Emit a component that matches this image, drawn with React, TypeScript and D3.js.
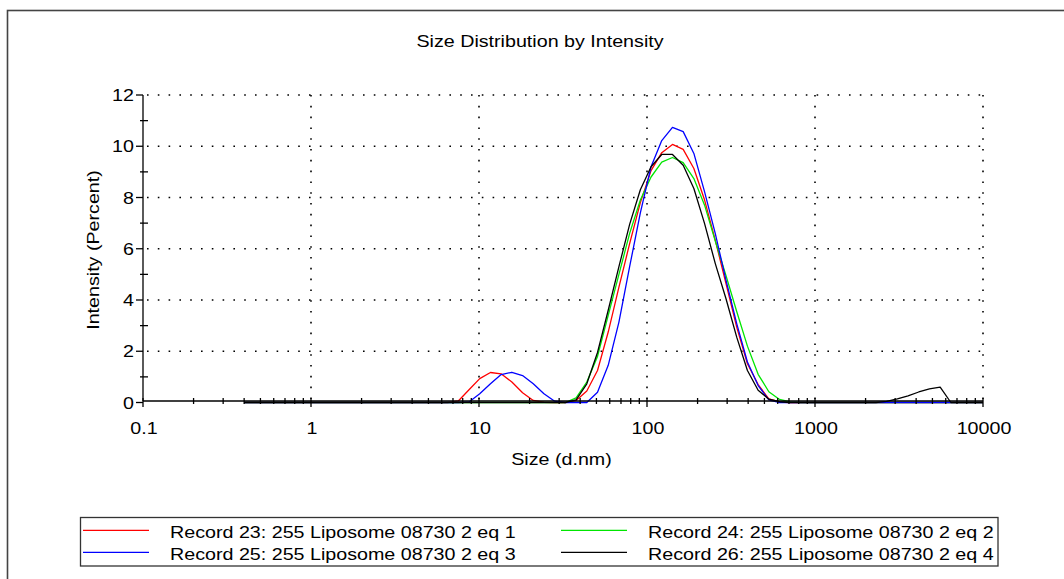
import * as d3 from 'd3'

const WIDTH = 1064
const HEIGHT = 579
const FONT = '"Liberation Sans", Arial, Helvetica, sans-serif'
const FONT_SIZE = 16.4
const STRETCH = 1.2

// size bins (d.nm)
const SIZES = [
  0.4, 0.4632, 0.5365, 0.6213, 0.7195, 0.8332, 0.9649, 1.117, 1.294, 1.499,
  1.736, 2.01, 2.328, 2.696, 3.122, 3.615, 4.187, 4.849, 5.615, 6.503,
  7.531, 8.721, 10.1, 11.7, 13.54, 15.69, 18.17, 21.04, 24.36, 28.21,
  32.67, 37.84, 43.82, 50.75, 58.77, 68.06, 78.82, 91.28, 105.7, 122.4,
  141.8, 164.2, 190.1, 220.2, 255.0, 295.3, 342.0, 396.1, 458.7, 531.2,
  615.1, 712.4, 825.0, 955.4, 1106, 1281, 1484, 1718, 1990, 2305,
  2669, 3091, 3580, 4145, 4801, 5560, 6439, 7456, 8635, 10000,
]

const RECORD_23 = [
  0, 0, 0, 0, 0, 0, 0, 0, 0, 0,
  0, 0, 0, 0, 0, 0, 0, 0, 0, 0,
  0.06, 0.5, 0.93, 1.17, 1.12, 0.8, 0.38, 0.08, 0.01, 0,
  0, 0.08, 0.45, 1.25, 2.75, 4.5, 6.2, 7.8, 9.05, 9.75,
  10.07, 9.88, 9.13, 7.9, 6.33, 4.64, 2.94, 1.51, 0.7, 0.14,
  0.02, 0, 0, 0, 0, 0, 0, 0, 0, 0,
  0, 0, 0, 0, 0, 0, 0, 0, 0, 0,
]
const RECORD_24 = [
  0, 0, 0, 0, 0, 0, 0, 0, 0, 0,
  0, 0, 0, 0, 0, 0, 0, 0, 0, 0,
  0, 0, 0, 0, 0, 0, 0, 0, 0, 0,
  0, 0.18, 0.8, 1.8, 3.4, 5.0, 6.6, 7.9, 8.8, 9.38,
  9.56, 9.36, 8.74, 7.7, 6.3, 4.95, 3.55, 2.2, 1.1, 0.42,
  0.12, 0.02, 0, 0, 0, 0, 0, 0, 0, 0,
  0, 0, 0, 0, 0, 0, 0, 0, 0, 0,
]
const RECORD_25 = [
  0, 0, 0, 0, 0, 0, 0, 0, 0, 0,
  0, 0, 0, 0, 0, 0, 0, 0, 0, 0,
  0, 0.02, 0.34, 0.73, 1.09, 1.18, 1.05, 0.73, 0.34, 0.05,
  0, 0, 0, 0.4, 1.45, 3.14, 5.3, 7.4, 9.2, 10.22,
  10.74, 10.57, 9.72, 8.22, 6.59, 4.77, 3.08, 1.58, 0.66, 0.1,
  0, 0, 0, 0, 0, 0, 0, 0, 0, 0,
  0, 0, 0, 0, 0, 0, 0, 0, 0, 0,
]
const RECORD_26 = [
  0, 0, 0, 0, 0, 0, 0, 0, 0, 0,
  0, 0, 0, 0, 0, 0, 0, 0, 0, 0,
  0, 0, 0, 0, 0, 0, 0, 0, 0, 0,
  0, 0.1, 0.73, 1.95, 3.6, 5.3, 6.95, 8.3, 9.2, 9.68,
  9.68, 9.26, 8.35, 6.98, 5.42, 4.05, 2.55, 1.25, 0.48, 0.13,
  0.03, 0, 0, 0, 0, 0, 0, 0, 0, 0,
  0.04, 0.14, 0.26, 0.41, 0.53, 0.6, 0, 0, 0, 0,
]

const SERIES = [
  { name: 'Record 23: 255 Liposome 08730 2 eq 1', values: RECORD_23, color: '#ff0000' },
  { name: 'Record 24: 255 Liposome 08730 2 eq 2', values: RECORD_24, color: '#00e600' },
  { name: 'Record 25: 255 Liposome 08730 2 eq 3', values: RECORD_25, color: '#0000ff' },
  { name: 'Record 26: 255 Liposome 08730 2 eq 4', values: RECORD_26, color: '#000000' },
]

const X_TICKS = [0.1, 1, 10, 100, 1000, 10000]
const X_TICK_LABELS = ['0.1', '1', '10', '100', '1000', '10000']
const Y_TICKS = [0, 2, 4, 6, 8, 10, 12]
const Y_MINOR = [1, 3, 5, 7, 9, 11]

const x = d3.scaleLog().domain([0.1, 10000]).range([143, 983])
const y = d3.scaleLinear().domain([0, 12]).range([402.5, 95])

const xMinor = X_TICKS.slice(0, -1).flatMap((d) => d3.range(2, 10).map((k) => d * k))

// text is a bit wider than Arial in the original, so stretch along the baseline
function Label({ x: tx, y: ty, anchor = 'start', rotate = 0, children }: any) {
  return (
    <text
      transform={`translate(${tx},${ty}) rotate(${rotate}) scale(${STRETCH},1)`}
      textAnchor={anchor}
      fontFamily={FONT}
      fontSize={FONT_SIZE}
      fill="#000"
    >
      {children}
    </text>
  )
}

export default function App() {
  const line = d3
    .line<number>()
    .x((_, i) => x(SIZES[i]))
    .y((d) => y(d))

  const axisY = y(0) - 1.5
  const [x0, x1] = x.range()
  const legendRows = [
    [SERIES[0], SERIES[1]],
    [SERIES[2], SERIES[3]],
  ]
  const drawOrder = [SERIES[0], SERIES[1], SERIES[2], SERIES[3]]

  return (
    <svg
      width={WIDTH}
      height={HEIGHT}
      style={{ position: 'absolute', left: 0, top: 0, background: '#fff' }}
    >
      <rect x={7.5} y={10.5} width={1200} height={800} fill="none" stroke="#444" strokeWidth={1.6} />

      <Label x={540} y={47} anchor="middle">Size Distribution by Intensity</Label>

      {/* dotted grid */}
      <g stroke="#000" strokeWidth={1.6} strokeDasharray="1.6 9.2">
        {Y_TICKS.slice(1).map((t) => (
          <line key={'h' + t} x1={x0 + 4} x2={x1} y1={y(t)} y2={y(t)} />
        ))}
        {X_TICKS.slice(1).map((t) => (
          <line key={'v' + t} x1={x(t)} x2={x(t)} y1={y(12)} y2={axisY} />
        ))}
      </g>

      {/* curves */}
      <g fill="none" strokeWidth={1.3} strokeLinejoin="round">
        {drawOrder.map((s) => (
          <path key={s.name} d={line(s.values) || ''} stroke={s.color} />
        ))}
      </g>

      {/* axes */}
      <g stroke="#000" strokeWidth={1.3}>
        <line x1={x0} x2={x0} y1={y(12)} y2={axisY} />
        <line x1={x0} x2={x1} y1={axisY} y2={axisY} />
        {Y_TICKS.map((t) => (
          <line key={'yt' + t} x1={x0 - 7} x2={x0} y1={y(t)} y2={y(t)} />
        ))}
        {Y_MINOR.map((t) => (
          <line key={'ym' + t} x1={x0 - 3} x2={x0 + 5} y1={y(t)} y2={y(t)} />
        ))}
        {X_TICKS.map((t) => (
          <line key={'xt' + t} x1={x(t)} x2={x(t)} y1={axisY - 3} y2={axisY + 6} />
        ))}
        {xMinor.map((t) => (
          <line key={'xm' + t} x1={x(t)} x2={x(t)} y1={axisY - 3} y2={axisY + 3} />
        ))}
      </g>

      {Y_TICKS.map((t) => (
        <Label key={'yl' + t} x={134} y={y(t) + 6} anchor="end">
          {t}
        </Label>
      ))}
      {X_TICKS.map((t, i) => (
        <Label key={'xl' + t} x={x(t) + 1} y={433.5} anchor="middle">
          {X_TICK_LABELS[i]}
        </Label>
      ))}

      <Label x={561.5} y={465} anchor="middle">Size (d.nm)</Label>
      <Label x={99} y={250} anchor="middle" rotate={-90}>Intensity (Percent)</Label>

      {/* legend */}
      <rect x={80.5} y={517.5} width={917.5} height={48.5} fill="none" stroke="#333" strokeWidth={1.3} />
      {legendRows.map((row, r) =>
        row.map((s, c) => {
          const lx = 83 + c * 478
          const ly = 530.3 + r * 22
          return (
            <g key={s.name}>
              <line x1={lx} x2={lx + 66} y1={ly} y2={ly} stroke={s.color} strokeWidth={1.3} />
              <Label x={lx + 87} y={ly + 7.2}>
                {s.name}
              </Label>
            </g>
          )
        }),
      )}
    </svg>
  )
}
